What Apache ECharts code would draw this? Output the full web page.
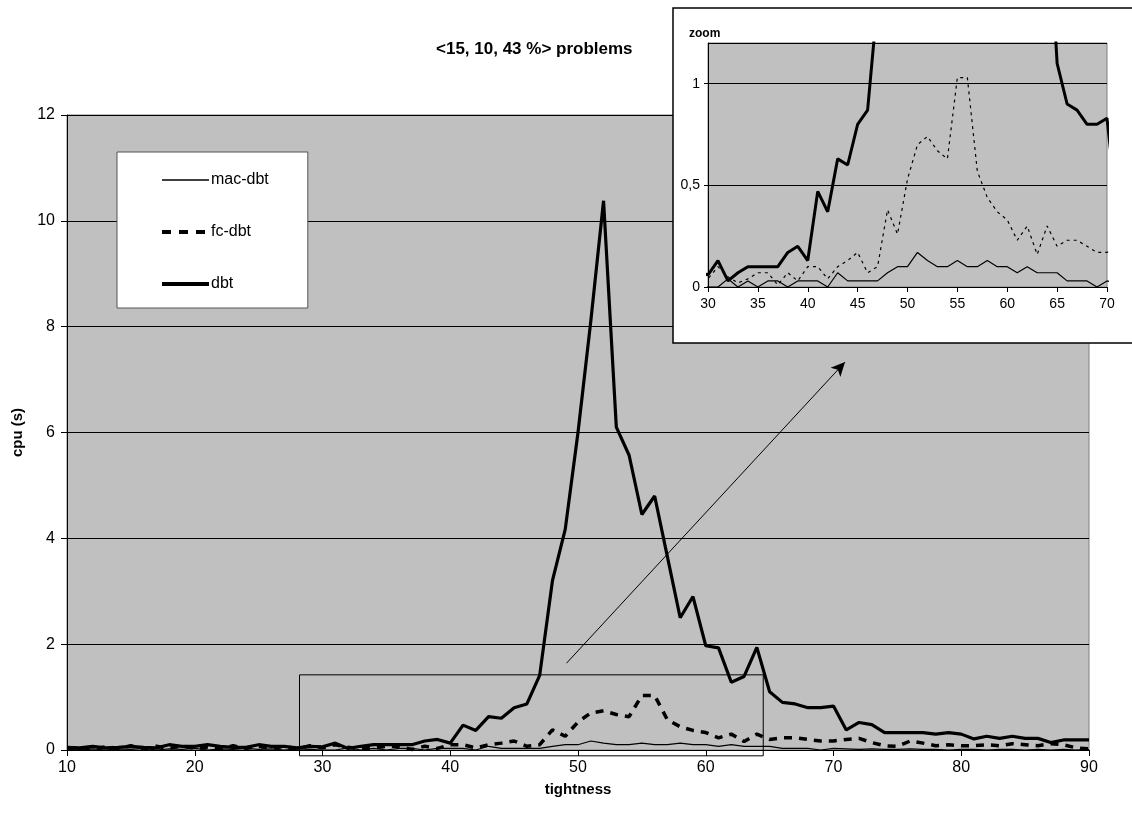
<!DOCTYPE html>
<html>
<head>
<meta charset="utf-8">
<script src="https://cdn.jsdelivr.net/npm/echarts@6/dist/echarts.min.js"></script>
<style>
  html, body { margin: 0; padding: 0; background: #fff; }
  #main { width: 1132px; height: 824px; }
</style>
</head>
<body>
<div id="main"></div>
<script>
// tightness (x)
const tightness = [10, 11, 12, 13, 14, 15, 16, 17, 18, 19, 20, 21, 22, 23, 24, 25, 26, 27, 28, 29,
  30, 31, 32, 33, 34, 35, 36, 37, 38, 39, 40, 41, 42, 43, 44, 45, 46, 47, 48, 49,
  50, 51, 52, 53, 54, 55, 56, 57, 58, 59, 60, 61, 62, 63, 64, 65, 66, 67, 68, 69,
  70, 71, 72, 73, 74, 75, 76, 77, 78, 79, 80, 81, 82, 83, 84, 85, 86, 87, 88, 89, 90]

// cpu (s) per algorithm
const macDbt = [0.02, 0.01, 0.02, 0, 0.02, 0.01, 0.03, 0, 0.02, 0.01, 0.03, 0, 0.02, 0.01, 0.03, 0.01, 0.02, 0, 0.02, 0.01,
  0, 0, 0.04, 0, 0.03, 0, 0.03, 0.03, 0, 0.03, 0.03, 0.03, 0, 0.07, 0.03, 0.03, 0.03, 0.03, 0.07, 0.1,
  0.1, 0.17, 0.13, 0.1, 0.1, 0.13, 0.1, 0.1, 0.13, 0.1, 0.1, 0.07, 0.1, 0.07, 0.07, 0.07, 0.03, 0.03, 0.03, 0,
  0.03, 0.02, 0.01, 0.02, 0.01, 0.01, 0.02, 0.01, 0.01, 0, 0.01, 0.01, 0, 0.01, 0.01, 0, 0.01, 0, 0.01, 0, 0.01]
const fcDbt = [0.03, 0.05, 0.02, 0.06, 0.03, 0.08, 0.02, 0.07, 0.03, 0.08, 0.03, 0.05, 0.02, 0.08, 0.03, 0.07, 0.03, 0.07, 0.02, 0.08,
  0.04, 0.1, 0.05, 0.02, 0.04, 0.07, 0.07, 0.01, 0.07, 0.03, 0.1, 0.1, 0.04, 0.1, 0.13, 0.17, 0.07, 0.1, 0.38, 0.26,
  0.53, 0.7, 0.74, 0.67, 0.63, 1.03, 1.03, 0.57, 0.44, 0.37, 0.33, 0.23, 0.3, 0.16, 0.3, 0.2, 0.23, 0.23, 0.2, 0.17,
  0.17, 0.2, 0.22, 0.14, 0.08, 0.07, 0.17, 0.13, 0.08, 0.1, 0.08, 0.08, 0.1, 0.08, 0.12, 0.1, 0.08, 0.12, 0.1, 0.04, 0.02]
const dbt = [0.05, 0.04, 0.07, 0.04, 0.05, 0.07, 0.05, 0.04, 0.1, 0.07, 0.07, 0.1, 0.07, 0.05, 0.05, 0.1, 0.07, 0.07, 0.04, 0.07,
  0.06, 0.13, 0.03, 0.07, 0.1, 0.1, 0.1, 0.1, 0.17, 0.2, 0.13, 0.47, 0.37, 0.63, 0.6, 0.8, 0.87, 1.41, 3.2, 4.17,
  6.0, 8.1, 10.38, 6.1, 5.57, 4.45, 4.8, 3.65, 2.5, 2.9, 1.97, 1.93, 1.28, 1.39, 1.94, 1.1, 0.9, 0.87, 0.8, 0.8,
  0.83, 0.38, 0.52, 0.48, 0.33, 0.33, 0.33, 0.33, 0.3, 0.33, 0.3, 0.21, 0.26, 0.22, 0.26, 0.22, 0.22, 0.14, 0.19, 0.19, 0.19]

// zoom window shown in the inset, and the arrow pointing at it
const zoomBox = [[28.2, 1.42], [64.5, -0.11]]
const arrowFrom = [49.1, 1.64]
const arrowTo = [70.9, 7.33]
const zoomRange = [30, 70]

const FONT = 'Liberation Sans'

function pairs(ys, lo, hi) {
  const out = []
  tightness.forEach((x, i) => {
    // keep one point past each end so the clipped line runs to the edge
    if (lo == null || (x >= lo - 1 && x <= hi + 1)) out.push([x, ys[i]])
  })
  return out
}

const chart = echarts.init(document.getElementById('main'))

const axisBlack = { lineStyle: { color: '#000', width: 1 } }

chart.setOption({
  animation: false,
  backgroundColor: '#fff',
  textStyle: { fontFamily: FONT, color: '#000' },
  title: [
    { text: '<15, 10, 43 %> problems', left: 431, top: 36,
      textStyle: { fontFamily: FONT, fontSize: 17, fontWeight: 'bold', color: '#000' } },
    { text: 'zoom', left: 684, top: 23, z: 6,
      textStyle: { fontFamily: FONT, fontSize: 12, fontWeight: 'bold', color: '#000' } }
  ],
  legend: {
    data: [
      { name: 'mac-dbt', lineStyle: { width: 1.3 } },
      { name: 'fc-dbt', lineStyle: { width: 4, type: [9, 8] } },
      { name: 'dbt', lineStyle: { width: 4 } }
    ],
    orient: 'vertical',
    left: 117, top: 152,
    padding: [20, 39, 16, 43],
    itemGap: 36,
    itemWidth: 47,
    itemHeight: 14,
    backgroundColor: '#fff',
    borderColor: '#555',
    borderWidth: 1,
    itemStyle: { color: 'rgba(0,0,0,0)', borderWidth: 0 },
    textStyle: { fontFamily: FONT, fontSize: 16, color: '#000', padding: [0, 0, 0, -3] }
  },
  grid: [
    { left: 67, right: 43, top: 115, bottom: 74, show: true, z: 0,
      backgroundColor: '#c0c0c0', borderColor: '#808080', borderWidth: 1 },
    { left: 708, right: 25, top: 43, bottom: 537, show: true, z: 2,
      backgroundColor: '#c0c0c0', borderColor: '#808080', borderWidth: 1 }
  ],
  xAxis: [
    { type: 'value', gridIndex: 0, min: 10, max: 90, interval: 10,
      name: 'tightness', nameLocation: 'middle', nameGap: 32,
      nameTextStyle: { fontFamily: FONT, fontSize: 15, fontWeight: 'bold', color: '#000' },
      axisLine: axisBlack, axisTick: { show: true, length: 6, lineStyle: { color: '#000' } },
      axisLabel: { fontSize: 16, color: '#000', margin: 10 },
      splitLine: { show: false } },
    { type: 'value', gridIndex: 1, min: zoomRange[0], max: zoomRange[1], interval: 5, z: 4,
      axisLine: axisBlack, axisTick: { show: true, length: 5, lineStyle: { color: '#000' } },
      axisLabel: { fontSize: 14, color: '#000', margin: 10 },
      splitLine: { show: false } }
  ],
  yAxis: [
    { type: 'value', gridIndex: 0, min: 0, max: 12, interval: 2,
      name: 'cpu (s)', nameLocation: 'middle', nameGap: 42, nameRotate: 90,
      nameTextStyle: { fontFamily: FONT, fontSize: 15, fontWeight: 'bold', color: '#000' },
      axisLine: { show: true, lineStyle: { color: '#000' } },
      axisTick: { show: true, length: 6, lineStyle: { color: '#000' } },
      axisLabel: { fontSize: 16, color: '#000', margin: 12 },
      splitLine: { show: true, lineStyle: { color: '#000', width: 1 } } },
    { type: 'value', gridIndex: 1, min: 0, max: 1.2, interval: 0.5, z: 4,
      axisLine: { show: true, lineStyle: { color: '#000' } },
      axisTick: { show: true, length: 4, lineStyle: { color: '#000' } },
      axisLabel: { fontSize: 14, color: '#000', margin: 8, showMaxLabel: false,
        formatter: v => (v > 1.1 ? '' : String(v).replace('.', ',')) },
      splitLine: { show: true, lineStyle: { color: '#000', width: 1 } } }
  ],
  graphic: [
    { id: 'insetBox', type: 'rect', z: 1, silent: true,
      shape: { x: 673, y: 8, width: 480, height: 335 },
      style: { fill: '#fff', stroke: '#000', lineWidth: 1.5 } }
  ],
  series: [
    { name: 'mac-dbt', type: 'line', xAxisIndex: 0, yAxisIndex: 0, symbol: 'none',
      data: pairs(macDbt), lineStyle: { color: '#000', width: 1.2 }, itemStyle: { color: '#000' } },
    { name: 'fc-dbt', type: 'line', xAxisIndex: 0, yAxisIndex: 0, symbol: 'none',
      data: pairs(fcDbt), lineStyle: { color: '#000', width: 3.5, type: [8, 7] }, itemStyle: { color: '#000' } },
    { name: 'dbt', type: 'line', xAxisIndex: 0, yAxisIndex: 0, symbol: 'none',
      data: pairs(dbt), lineStyle: { color: '#000', width: 3.2 }, itemStyle: { color: '#000' },
      markLine: {
        silent: true, symbol: ['none', 'arrow'], symbolSize: [10, 14],
        label: { show: false },
        lineStyle: { color: '#000', width: 1, type: 'solid' },
        data: [[{ coord: arrowFrom }, { coord: arrowTo }]]
      } },
    // inset (zoom)
    { name: 'mac-dbt', type: 'line', xAxisIndex: 1, yAxisIndex: 1, symbol: 'none', z: 5, clip: true,
      data: pairs(macDbt, zoomRange[0], zoomRange[1]), lineStyle: { color: '#000', width: 1.2 } },
    { name: 'fc-dbt', type: 'line', xAxisIndex: 1, yAxisIndex: 1, symbol: 'none', z: 5, clip: true,
      data: pairs(fcDbt, zoomRange[0], zoomRange[1]), lineStyle: { color: '#000', width: 1.2, type: [3, 4] } },
    { name: 'dbt', type: 'line', xAxisIndex: 1, yAxisIndex: 1, symbol: 'none', z: 5, clip: true,
      data: pairs(dbt, zoomRange[0], zoomRange[1]), lineStyle: { color: '#000', width: 3 } }
  ]
})

// zoom window rectangle, placed through the main grid's scales
const p1 = chart.convertToPixel({ gridIndex: 0 }, zoomBox[0])
const p2 = chart.convertToPixel({ gridIndex: 0 }, zoomBox[1])
chart.setOption({
  graphic: [
    { id: 'zoomRect', type: 'rect', z: 1, silent: true,
      shape: { x: p1[0], y: p1[1], width: p2[0] - p1[0], height: p2[1] - p1[1] },
      style: { fill: 'none', stroke: '#000', lineWidth: 1 } }
  ]
})
</script>
</body>
</html>
